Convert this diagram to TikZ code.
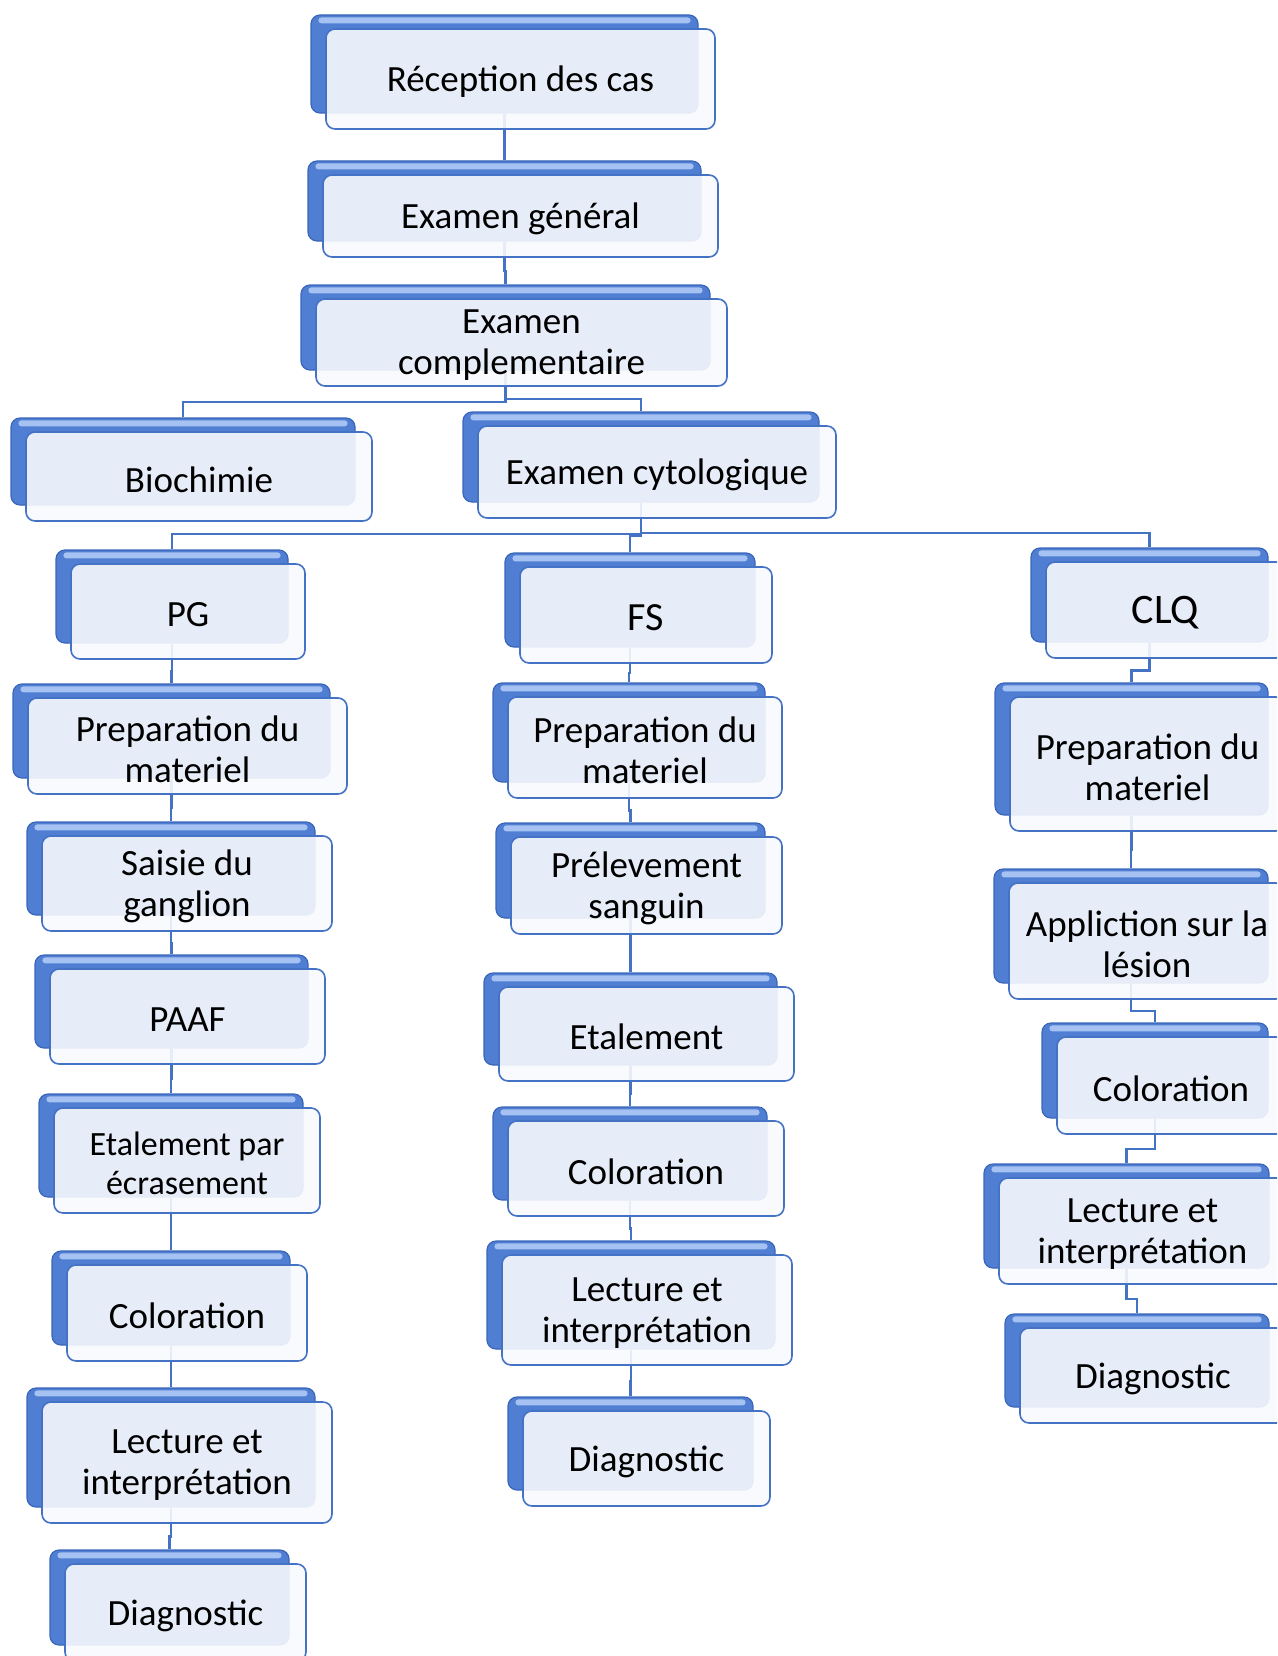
\documentclass[tikz,border=0pt]{standalone}
\usepackage{fontspec}
\setmainfont{Carlito}
\usetikzlibrary{calc}
\definecolor{bdark}{HTML}{3A66BA}
\definecolor{bmid}{HTML}{4F7ED2}
\definecolor{hl}{HTML}{A6C2F2}
\definecolor{fline}{HTML}{4472C4}
\definecolor{ffill}{HTML}{F8FAFD}
\definecolor{cline}{HTML}{4472C4}
\pgfdeclarelayer{conn}
\pgfsetlayers{conn,main}
\tikzset{
  backbox/.style={draw=bdark, fill=bmid, rounded corners=9pt, line width=1.2pt, inner sep=0pt},
  frontbox/.style={draw=fline, fill=ffill, fill opacity=0.9, rounded corners=9pt,
    line width=1.6pt, inner sep=0pt},
  label text/.style={align=center, inner sep=0pt, text=black},
  conn/.style={draw=cline, line width=2.5pt},
}
% #1 font, #2 name, #3 x1, #4 y1, #5 x2, #6 y2 (back box), #7 text
\newcommand\mkbox[7][\fontsize{37}{41}\selectfont]{%
  \node[backbox, minimum width={(#5-#3)*1pt}, minimum height={(#6-#4)*1pt}] (b#2) at ({(#3+#5)/2},{(#4+#6)/2}) {};
  \fill[hl, rounded corners=3pt] ([shift={(8pt,-3pt)}]b#2.north west) rectangle ([shift={(-8pt,-9pt)}]b#2.north east);
  \node[frontbox, minimum width={(#5-#3+2)*1pt}, minimum height={(#6-#4+2)*1pt}] (#2) at ({(#3+#5)/2+16},{(#4+#6)/2+15}) {};
  \node[label text, font=#1] (t#2) at ([yshift=-3pt]#2.center) {#7};
}
\newcommand\lnk[2]{%
  \coordinate (m#1#2) at ($(#1.south)!.5!(b#2.north)$);
  \draw[conn] (b#1.south) -- (b#1.south |- m#1#2) -| (b#2.north);
}
\begin{document}
\begin{tikzpicture}[x=1pt,y=-1pt]
\useasboundingbox (0,0) rectangle (1277,1656);
\clip (0,0) rectangle (1277,1656);
\mkbox{rec}{311}{15}{698}{113}{Réception des cas}
\mkbox{gen}{308}{161}{701}{241}{Examen général}
\mkbox{comp}{301}{285}{710}{370}{Examen\\complementaire}
\mkbox{bio}{11}{418}{355}{505}{Biochimie}
\mkbox{cyt}{463}{412}{819}{502}{Examen cytologique}
\mkbox{pg}{56}{550}{288}{643}{PG}
\mkbox[\fontsize{40}{44}\selectfont]{fs}{505}{553}{755}{647}{FS}
\mkbox[\fontsize{42}{46}\selectfont]{clq}{1031}{548}{1268}{642}{CLQ}
% left column
\mkbox{lprep}{13}{684}{330}{778}{Preparation du\\materiel}
\mkbox{sais}{27}{822}{315}{915}{Saisie du\\ganglion}
\mkbox{paaf}{35}{955}{308}{1048}{PAAF}
\mkbox[\fontsize{34}{39}\selectfont]{etal}{39}{1094}{303}{1197}{Etalement par\\écrasement}
\mkbox{lcol}{52}{1251}{290}{1345}{Coloration}
\mkbox{llec}{27}{1388}{315}{1507}{Lecture et\\interprétation}
\mkbox{ldia}{50}{1550}{289}{1645}{Diagnostic}
% middle column
\mkbox{mprep}{493}{683}{765}{782}{Preparation du\\materiel}
\mkbox{mprel}{496}{823}{765}{918}{Prélevement\\sanguin}
\mkbox{metal}{484}{973}{777}{1065}{Etalement}
\mkbox{mcol}{493}{1107}{767}{1200}{Coloration}
\mkbox{mlec}{487}{1241}{775}{1349}{Lecture et\\interprétation}
\mkbox{mdia}{508}{1397}{753}{1490}{Diagnostic}
% right column
\mkbox{rprep}{995}{683}{1268}{815}{Preparation du\\materiel}
\mkbox{rapp}{994}{869}{1268}{983}{Appliction sur la\\lésion}
\mkbox{rcol}{1042}{1023}{1268}{1118}{Coloration}
\mkbox{rlec}{984}{1164}{1269}{1268}{Lecture et\\interprétation}
\mkbox{rdia}{1005}{1314}{1269}{1407}{Diagnostic}
\begin{pgfonlayer}{conn}
\fill[white] (0,0) rectangle (1277,1656);
\lnk{rec}{gen}
\lnk{gen}{comp}
\lnk{comp}{bio}
\lnk{comp}{cyt}
\lnk{cyt}{pg}
\lnk{cyt}{fs}
\lnk{cyt}{clq}
\lnk{pg}{lprep}
\lnk{lprep}{sais}
\lnk{sais}{paaf}
\lnk{paaf}{etal}
\lnk{etal}{lcol}
\lnk{lcol}{llec}
\lnk{llec}{ldia}
\lnk{fs}{mprep}
\lnk{mprep}{mprel}
\lnk{mprel}{metal}
\lnk{metal}{mcol}
\lnk{mcol}{mlec}
\lnk{mlec}{mdia}
\lnk{clq}{rprep}
\lnk{rprep}{rapp}
\lnk{rapp}{rcol}
\lnk{rcol}{rlec}
\lnk{rlec}{rdia}
\end{pgfonlayer}
\end{tikzpicture}
\end{document}
